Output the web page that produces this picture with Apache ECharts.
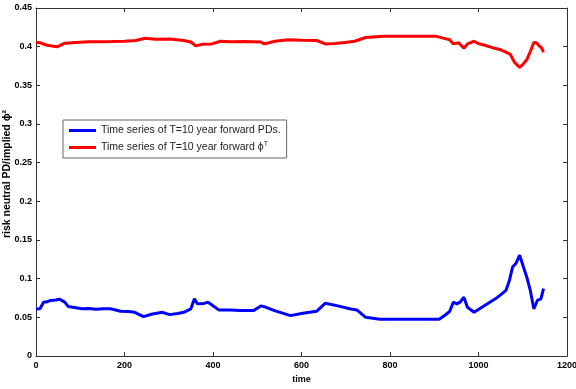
<!DOCTYPE html>
<html>
<head>
<meta charset="utf-8">
<script src="https://cdn.jsdelivr.net/npm/echarts@6/dist/echarts.min.js"></script>
<style>
  html, body { margin: 0; padding: 0; background: #fff; }
  #main { width: 576px; height: 389px; }
</style>
</head>
<body>
<div id="main"></div>
<script>
// series (time, value)
var redTime = [0, 10, 25, 40, 49, 65, 80, 100, 120, 144, 170, 200, 225, 247, 270, 302, 334, 350, 361, 375, 397, 417, 440, 470, 508, 516, 540, 571, 600, 634, 654, 675, 698, 720, 745, 785, 850, 903, 920, 935, 943, 955, 967, 975, 990, 1000, 1014, 1030, 1050, 1062, 1072, 1081, 1093, 1100, 1109, 1118, 1125, 1131, 1137, 1142, 1147];
var redVal  = [0.4054, 0.4050, 0.4018, 0.4005, 0.4000, 0.4045, 0.4050, 0.4058, 0.4062, 0.4063, 0.4066, 0.4070, 0.4080, 0.4108, 0.4095, 0.4100, 0.4080, 0.4060, 0.4010, 0.4030, 0.4036, 0.4070, 0.4062, 0.4068, 0.4060, 0.4036, 0.4070, 0.4090, 0.4082, 0.4080, 0.4036, 0.4040, 0.4054, 0.4070, 0.4118, 0.4136, 0.4136, 0.4136, 0.4110, 0.4090, 0.4036, 0.4050, 0.3980, 0.4036, 0.4070, 0.4040, 0.4018, 0.3990, 0.3960, 0.3930, 0.3900, 0.3800, 0.3730, 0.3770, 0.3830, 0.3950, 0.4054, 0.4050, 0.4010, 0.3990, 0.3930];

var blueTime = [0, 9, 17, 25, 33, 45, 53, 65, 73, 90, 104, 120, 135, 152, 168, 180, 191, 210, 223, 243, 263, 286, 302, 320, 334, 350, 358, 365, 380, 389, 413, 440, 460, 492, 508, 520, 539, 575, 603, 634, 654, 682, 709, 725, 745, 777, 850, 911, 925, 935, 943, 951, 959, 967, 975, 990, 1014, 1038, 1050, 1062, 1070, 1077, 1085, 1093, 1101, 1109, 1117, 1125, 1133, 1141, 1147];
var blueVal  = [0.0609, 0.0610, 0.0696, 0.0700, 0.0718, 0.0725, 0.0735, 0.0696, 0.0639, 0.0625, 0.0610, 0.0615, 0.0605, 0.0610, 0.0612, 0.0595, 0.0578, 0.0575, 0.0565, 0.0509, 0.0543, 0.0565, 0.0535, 0.0550, 0.0565, 0.0610, 0.0739, 0.0674, 0.0680, 0.0696, 0.0596, 0.0595, 0.0587, 0.0587, 0.0648, 0.0630, 0.0587, 0.0522, 0.0552, 0.0578, 0.0683, 0.0648, 0.0610, 0.0596, 0.0500, 0.0474, 0.0474, 0.0474, 0.0530, 0.0578, 0.0696, 0.0674, 0.0700, 0.0761, 0.0630, 0.0565, 0.0652, 0.0739, 0.0790, 0.0848, 0.0980, 0.1150, 0.1200, 0.1305, 0.1160, 0.1022, 0.0850, 0.0610, 0.0718, 0.0739, 0.0870];

var xTicks = [0, 200, 400, 600, 800, 1000, 1200];
var yTicks = [0, 0.05, 0.1, 0.15, 0.2, 0.25, 0.3, 0.35, 0.4, 0.45];

function pairs(t, v) {
  return t.map(function (x, i) { return [x, v[i]]; });
}

var bluePairs = pairs(blueTime, blueVal);
var redPairs = pairs(redTime, redVal);

var tickFont = { color: '#000', fontFamily: 'Liberation Sans, Arial', fontWeight: 'bold', fontSize: 9 };
var lineStyle = { color: '#333', width: 1 };

var chart = echarts.init(document.getElementById('main'));
chart.setOption({
  animation: false,
  grid: { left: 36, right: 9, top: 8, bottom: 33, containLabel: false, outerBoundsMode: 'none' },
  legend: {
    orient: 'vertical',
    left: 63,
    top: 120,
    itemWidth: 27,
    itemHeight: 3,
    itemGap: 5,
    icon: 'rect',
    padding: [5, 6, 5, 6],
    borderColor: '#666',
    borderWidth: 1,
    backgroundColor: '#fff',
    textStyle: {
      fontFamily: 'Liberation Sans, Arial',
      fontSize: 10.5,
      color: '#222',
      rich: {
        s: { fontSize: 7, verticalAlign: 'top', padding: [0, 0, 6, 0], fontFamily: 'Liberation Sans, Arial' }
      }
    },
    formatter: function (name) {
      if (name === 'phi') return 'Time series of T=10 year forward \u03d5{s|T}';
      return 'Time series of T=10 year forward PDs.';
    },
    data: ['pd', 'phi']
  },
  xAxis: [{
    type: 'value',
    min: 0, max: 1200, interval: 200,
    name: 'time',
    nameLocation: 'middle',
    nameGap: 19,
    nameMoveOverlap: false,
    nameTextStyle: tickFont,
    axisLine: { onZero: false, lineStyle: lineStyle },
    axisTick: { inside: true, length: 4, lineStyle: lineStyle },
    axisLabel: Object.assign({ margin: 5, formatter: function (v) { return String(v); } }, tickFont),
    splitLine: { show: false }
  }, {
    type: 'value', position: 'top',
    min: 0, max: 1200, interval: 200,
    axisLine: { show: true, onZero: false, lineStyle: lineStyle },
    axisTick: { inside: true, length: 4, lineStyle: lineStyle },
    axisLabel: { show: false },
    splitLine: { show: false }
  }],
  yAxis: [{
    type: 'value',
    min: 0, max: 0.45, interval: 0.05,
    name: 'risk neutral PD/implied \u03d5\u00b2',
    nameLocation: 'middle',
    nameGap: 23,
    nameRotate: 90,
    nameMoveOverlap: false,
    nameTextStyle: Object.assign({}, tickFont, { fontSize: 10.5, padding: [0, 0, 0, 16] }),
    axisLine: { show: true, onZero: false, lineStyle: lineStyle },
    axisTick: { show: true, inside: true, length: 4, lineStyle: lineStyle },
    axisLabel: Object.assign({ margin: 4 }, tickFont),
    splitLine: { show: false }
  }, {
    type: 'value', position: 'right',
    min: 0, max: 0.45, interval: 0.05,
    axisLine: { show: true, onZero: false, lineStyle: lineStyle },
    axisTick: { show: true, inside: true, length: 4, lineStyle: lineStyle },
    axisLabel: { show: false },
    splitLine: { show: false }
  }],
  series: [{
    name: 'pd',
    type: 'line',
    data: bluePairs,
    showSymbol: false,
    itemStyle: { color: '#0000ff' },
    lineStyle: { color: '#0000ff', width: 3 }
  }, {
    name: 'phi',
    type: 'line',
    data: redPairs,
    showSymbol: false,
    itemStyle: { color: '#ff0000' },
    lineStyle: { color: '#ff0000', width: 3 }
  }]
});
</script>
</body>
</html>
